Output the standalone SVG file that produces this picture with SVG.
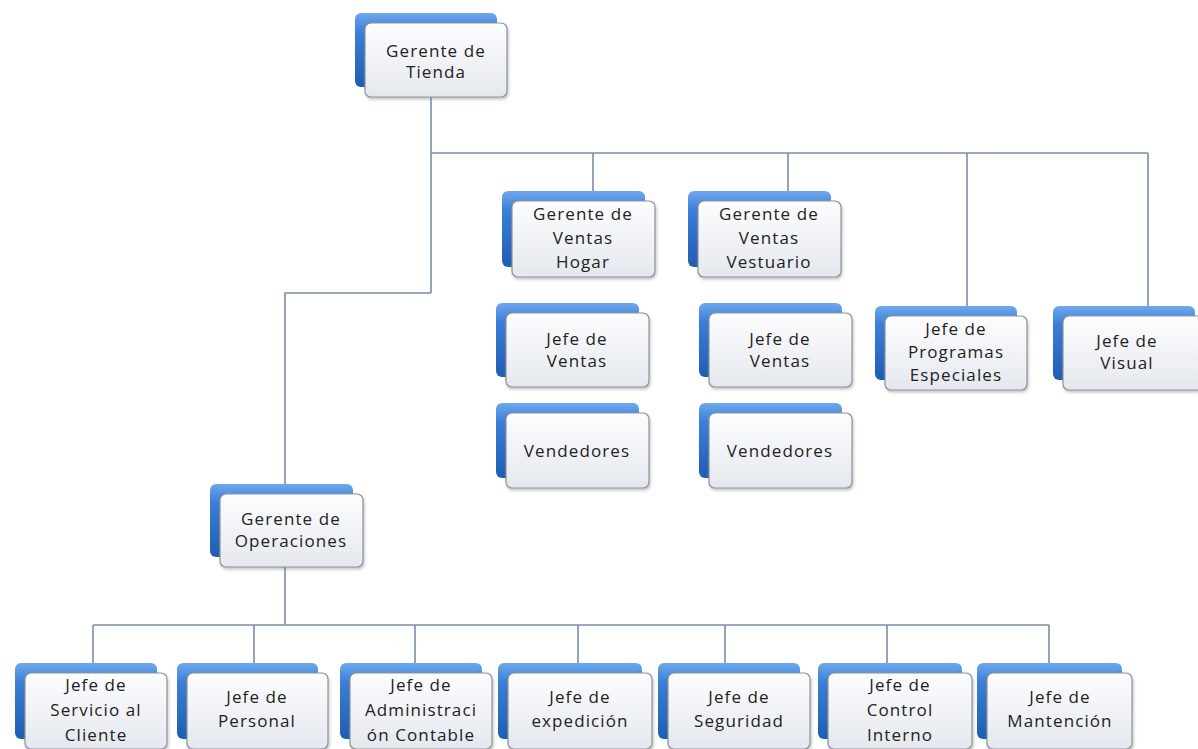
<svg xmlns="http://www.w3.org/2000/svg" width="1198" height="749" viewBox="0 0 1198 749">
<defs>
<linearGradient id="gb" x1="0" y1="0" x2="0" y2="1">
<stop offset="0" stop-color="#6ea8ee"/>
<stop offset="0.25" stop-color="#3c7fd6"/>
<stop offset="1" stop-color="#1f5db4"/>
</linearGradient>
<linearGradient id="gf" x1="0" y1="0" x2="0" y2="1">
<stop offset="0" stop-color="#fdfdfe"/>
<stop offset="1" stop-color="#e4e8ee"/>
</linearGradient>
<filter id="sh" x="-10%" y="-10%" width="125%" height="130%">
<feDropShadow dx="1" dy="2" stdDeviation="1.5" flood-color="#555" flood-opacity="0.35"/>
</filter>
</defs>
<style>
.bk{fill:url(#gb);}
.fr{fill:url(#gf);stroke:#8d939c;stroke-width:1.2;filter:url(#sh);}
.t{font-family:"Open Sans","DejaVu Sans",sans-serif;font-size:17px;letter-spacing:1.1px;fill:#222;text-anchor:middle;}
.c{fill:none;stroke:#7c8eab;stroke-width:1.6;}
</style>
<rect width="1198" height="749" fill="#ffffff"/>
<g id="connectors">
<path class="c" d="M431,97 V293 M431,153 H1148 M593,153 V192 M788,153 V192 M967,153 V306 M1148,153 V306"/>
<path class="c" d="M431,293 H285 V484"/>
<path class="c" d="M285,567 V625 M93,625 H1049 M93,625 V663 M254,625 V663 M415,625 V663 M578,625 V663 M725,625 V663 M887,625 V663 M1049,625 V663"/>
</g>
<g id="n-tienda">
<rect class="bk" x="355" y="13" width="142" height="74" rx="6"/>
<rect class="fr" x="365" y="23" width="142" height="74" rx="6"/>
<text class="t" x="436" y="57">Gerente de</text><text class="t" x="436" y="78">Tienda</text>
</g>
<g id="n-hogar">
<rect class="bk" x="502" y="191" width="143" height="76" rx="6"/>
<rect class="fr" x="512" y="201" width="143" height="76" rx="6"/>
<text class="t" x="583" y="220">Gerente de</text><text class="t" x="583" y="244">Ventas</text><text class="t" x="583" y="268">Hogar</text>
</g>
<g id="n-vestuario">
<rect class="bk" x="688" y="191" width="143" height="76" rx="6"/>
<rect class="fr" x="698" y="201" width="143" height="76" rx="6"/>
<text class="t" x="769" y="220">Gerente de</text><text class="t" x="769" y="244">Ventas</text><text class="t" x="769" y="268">Vestuario</text>
</g>
<g id="n-jv1">
<rect class="bk" x="496" y="303" width="143" height="74" rx="6"/>
<rect class="fr" x="506" y="313" width="143" height="74" rx="6"/>
<text class="t" x="577" y="345">Jefe de</text><text class="t" x="577" y="367">Ventas</text>
</g>
<g id="n-v1">
<rect class="bk" x="496" y="403" width="143" height="75" rx="6"/>
<rect class="fr" x="506" y="413" width="143" height="75" rx="6"/>
<text class="t" x="577" y="457">Vendedores</text>
</g>
<g id="n-jv2">
<rect class="bk" x="699" y="303" width="143" height="74" rx="6"/>
<rect class="fr" x="709" y="313" width="143" height="74" rx="6"/>
<text class="t" x="780" y="345">Jefe de</text><text class="t" x="780" y="367">Ventas</text>
</g>
<g id="n-v2">
<rect class="bk" x="699" y="403" width="143" height="75" rx="6"/>
<rect class="fr" x="709" y="413" width="143" height="75" rx="6"/>
<text class="t" x="780" y="457">Vendedores</text>
</g>
<g id="n-programas">
<rect class="bk" x="875" y="306" width="142" height="74" rx="6"/>
<rect class="fr" x="885" y="316" width="142" height="74" rx="6"/>
<text class="t" x="956" y="335">Jefe de</text><text class="t" x="956" y="358">Programas</text><text class="t" x="956" y="381">Especiales</text>
</g>
<g id="n-visual">
<rect class="bk" x="1053" y="306" width="142" height="74" rx="6"/>
<rect class="fr" x="1063" y="316" width="142" height="74" rx="6"/>
<text class="t" x="1127" y="347">Jefe de</text><text class="t" x="1127" y="369">Visual</text>
</g>
<g id="n-operaciones">
<rect class="bk" x="210" y="484" width="143" height="73" rx="6"/>
<rect class="fr" x="220" y="494" width="143" height="73" rx="6"/>
<text class="t" x="291" y="525">Gerente de</text><text class="t" x="291" y="547">Operaciones</text>
</g>
<g id="n-servicio">
<rect class="bk" x="15" y="663" width="142" height="76" rx="6"/>
<rect class="fr" x="25" y="673" width="142" height="76" rx="6"/>
<text class="t" x="96" y="691">Jefe de</text><text class="t" x="96" y="716">Servicio al</text><text class="t" x="96" y="741">Cliente</text>
</g>
<g id="n-personal">
<rect class="bk" x="177" y="663" width="141" height="76" rx="6"/>
<rect class="fr" x="187" y="673" width="141" height="76" rx="6"/>
<text class="t" x="257" y="703">Jefe de</text><text class="t" x="257" y="727">Personal</text>
</g>
<g id="n-administracion">
<rect class="bk" x="340" y="663" width="142" height="76" rx="6"/>
<rect class="fr" x="350" y="673" width="142" height="76" rx="6"/>
<text class="t" x="421" y="691">Jefe de</text><text class="t" x="421" y="716">Administraci</text><text class="t" x="421" y="741">ón Contable</text>
</g>
<g id="n-expedicion">
<rect class="bk" x="498" y="663" width="144" height="76" rx="6"/>
<rect class="fr" x="508" y="673" width="144" height="76" rx="6"/>
<text class="t" x="580" y="703">Jefe de</text><text class="t" x="580" y="727">expedición</text>
</g>
<g id="n-seguridad">
<rect class="bk" x="658" y="663" width="142" height="76" rx="6"/>
<rect class="fr" x="668" y="673" width="142" height="76" rx="6"/>
<text class="t" x="739" y="703">Jefe de</text><text class="t" x="739" y="727">Seguridad</text>
</g>
<g id="n-control">
<rect class="bk" x="818" y="663" width="144" height="76" rx="6"/>
<rect class="fr" x="828" y="673" width="144" height="76" rx="6"/>
<text class="t" x="900" y="691">Jefe de</text><text class="t" x="900" y="716">Control</text><text class="t" x="900" y="741">Interno</text>
</g>
<g id="n-mantencion">
<rect class="bk" x="977" y="663" width="145" height="76" rx="6"/>
<rect class="fr" x="987" y="673" width="145" height="76" rx="6"/>
<text class="t" x="1060" y="703">Jefe de</text><text class="t" x="1060" y="727">Mantención</text>
</g>
</svg>
